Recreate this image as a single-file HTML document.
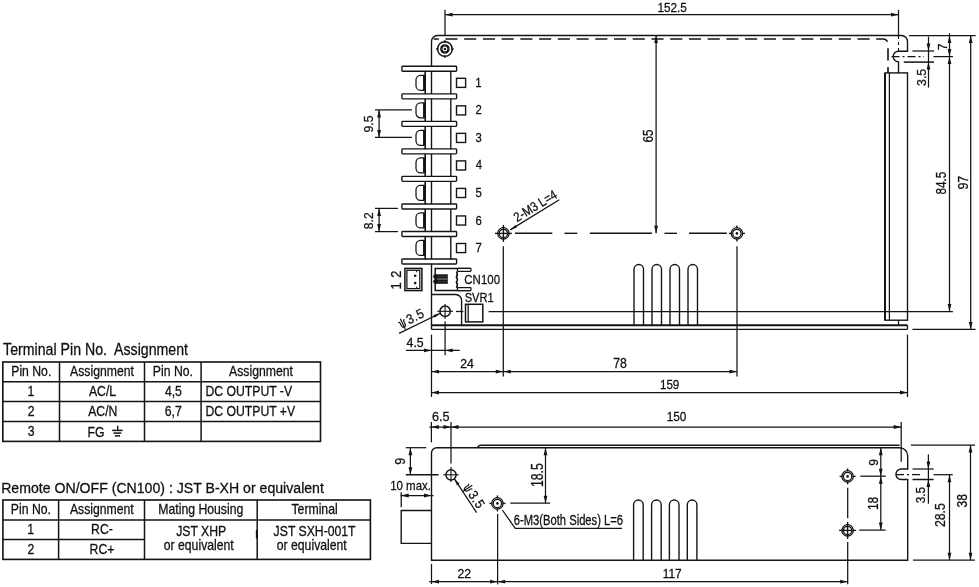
<!DOCTYPE html>
<html><head><meta charset="utf-8"><style>
html,body{margin:0;padding:0;background:#fff;overflow:hidden}
svg{display:block;will-change:transform}
</style></head><body>
<svg width="979" height="587" viewBox="0 0 979 587">
<rect width="979" height="587" fill="#fff"/>
<line x1="445" y1="9.7" x2="445" y2="35.5" stroke="#141414" stroke-width="1.25"/>
<line x1="898.5" y1="9.8" x2="898.5" y2="35.5" stroke="#141414" stroke-width="1.25"/>
<line x1="445" y1="14.7" x2="898.5" y2="14.7" stroke="#141414" stroke-width="1.25"/>
<polygon points="445,14.7 452.5,12.8 452.5,16.6" fill="#141414"/>
<polygon points="898.5,14.7 891,12.8 891,16.6" fill="#141414"/>
<text font-family="Liberation Sans, sans-serif" stroke="#111" stroke-width="0.28" font-size="12.86" fill="#111" style="white-space:pre" transform="translate(657.52,12.3) scale(0.913,1)">152.5</text>
<path d="M431.5,329.4 L431.5,41.5 A6,6 0 0 1 437.5,35.5 L901.5,35.5 A6,6 0 0 1 907.5,41.5 L907.5,51.3 L898.5,51.3 A5.3,5.3 0 0 0 898.5,61.9 L898.5,72.9" stroke="#141414" stroke-width="1.38" fill="none" />
<rect x="885" y="72.9" width="22.5" height="247.3" stroke="#141414" stroke-width="1.38" fill="none"/>
<line x1="889.4" y1="72.9" x2="889.4" y2="320.2" stroke="#141414" stroke-width="1.25"/>
<line x1="885" y1="72.9" x2="885" y2="320.2" stroke="#141414" stroke-width="1.88"/>
<line x1="898.5" y1="320.2" x2="898.5" y2="325.2" stroke="#141414" stroke-width="1.25"/>
<line x1="431.5" y1="325.2" x2="907.5" y2="325.2" stroke="#141414" stroke-width="2"/>
<line x1="907.5" y1="325.2" x2="907.5" y2="329.4" stroke="#141414" stroke-width="1.25"/>
<line x1="431.5" y1="329.4" x2="907.5" y2="329.4" stroke="#141414" stroke-width="1.38"/>
<path d="M433.7,39 L883,39 A5,5 0 0 1 888,44 L888,72.9" stroke="#141414" stroke-width="1.62" fill="none" stroke-dasharray="12.1 6.63" stroke-dashoffset="7"/>
<path d="M898.5,36 L898.5,51" stroke="#141414" stroke-width="1.12" fill="none" stroke-dasharray="3 3"/>
<path d="M891.5,56.6 L924,56.6" stroke="#141414" stroke-width="1.25" fill="none" stroke-dasharray="8 3 2 3"/>
<circle cx="444.9" cy="49" r="7.3" stroke="#141414" stroke-width="1.5" fill="none"/>
<circle cx="444.9" cy="49" r="3.6" stroke="#141414" stroke-width="2.38" fill="none"/>
<circle cx="444.9" cy="49" r="1.2" stroke="#141414" stroke-width="0" fill="#141414"/>
<line x1="435.9" y1="49" x2="438.6" y2="49" stroke="#141414" stroke-width="1.25"/>
<line x1="444.9" y1="40" x2="444.9" y2="42.7" stroke="#141414" stroke-width="1.25"/>
<line x1="451.2" y1="49" x2="453.9" y2="49" stroke="#141414" stroke-width="1.25"/>
<line x1="444.9" y1="55.3" x2="444.9" y2="58" stroke="#141414" stroke-width="1.25"/>
<line x1="440.9" y1="49" x2="442.7" y2="49" stroke="#777" stroke-width="0.75"/>
<line x1="447.1" y1="49" x2="448.9" y2="49" stroke="#777" stroke-width="0.75"/>
<line x1="444.9" y1="45" x2="444.9" y2="46.8" stroke="#777" stroke-width="0.75"/>
<line x1="444.9" y1="51.2" x2="444.9" y2="53" stroke="#777" stroke-width="0.75"/>
<rect x="401.9" y="66.3" width="54.7" height="5" stroke="#141414" stroke-width="1.38" fill="#fff" rx="0.8"/>
<rect x="401.9" y="93.83" width="54.7" height="5" stroke="#141414" stroke-width="1.38" fill="#fff" rx="0.8"/>
<rect x="401.9" y="121.36" width="54.7" height="5" stroke="#141414" stroke-width="1.38" fill="#fff" rx="0.8"/>
<rect x="401.9" y="148.89" width="54.7" height="5" stroke="#141414" stroke-width="1.38" fill="#fff" rx="0.8"/>
<rect x="401.9" y="176.42" width="54.7" height="5" stroke="#141414" stroke-width="1.38" fill="#fff" rx="0.8"/>
<rect x="401.9" y="203.95" width="54.7" height="5" stroke="#141414" stroke-width="1.38" fill="#fff" rx="0.8"/>
<rect x="401.9" y="231.48" width="54.7" height="5" stroke="#141414" stroke-width="1.38" fill="#fff" rx="0.8"/>
<rect x="401.9" y="259.01" width="54.7" height="5" stroke="#141414" stroke-width="1.38" fill="#fff" rx="0.8"/>
<line x1="425.2" y1="71.3" x2="425.2" y2="94.2" stroke="#141414" stroke-width="1.62"/>
<line x1="450.8" y1="71.3" x2="450.8" y2="94.2" stroke="#141414" stroke-width="1.38"/>
<path d="M424.5,75.25 L420.5,75.25 A4.5,4.5 0 0 0 416,79.75 L416,85.75 A4.5,4.5 0 0 0 420.5,90.25 L424.5,90.25" stroke="#141414" stroke-width="1.25" fill="none" />
<line x1="424.3" y1="75.25" x2="424.3" y2="90.25" stroke="#141414" stroke-width="2.5"/>
<rect x="456.5" y="78.3" width="9.1" height="9.1" stroke="#141414" stroke-width="1.38" fill="none"/>
<text font-family="Liberation Sans, sans-serif" stroke="#111" stroke-width="0.28" font-size="12.6" fill="#111" style="white-space:pre" transform="translate(475.15,86.9) scale(0.900,1)">1</text>
<line x1="425.2" y1="98.83" x2="425.2" y2="121.73" stroke="#141414" stroke-width="1.62"/>
<line x1="450.8" y1="98.83" x2="450.8" y2="121.73" stroke="#141414" stroke-width="1.38"/>
<path d="M424.5,102.78 L420.5,102.78 A4.5,4.5 0 0 0 416,107.28 L416,113.28 A4.5,4.5 0 0 0 420.5,117.78 L424.5,117.78" stroke="#141414" stroke-width="1.25" fill="none" />
<line x1="424.3" y1="102.78" x2="424.3" y2="117.78" stroke="#141414" stroke-width="2.5"/>
<rect x="456.5" y="105.83" width="9.1" height="9.1" stroke="#141414" stroke-width="1.38" fill="none"/>
<text font-family="Liberation Sans, sans-serif" stroke="#111" stroke-width="0.28" font-size="12.6" fill="#111" style="white-space:pre" transform="translate(475.43,114.43) scale(0.900,1)">2</text>
<line x1="425.2" y1="126.36" x2="425.2" y2="149.26" stroke="#141414" stroke-width="1.62"/>
<line x1="450.8" y1="126.36" x2="450.8" y2="149.26" stroke="#141414" stroke-width="1.38"/>
<path d="M424.5,130.31 L420.5,130.31 A4.5,4.5 0 0 0 416,134.81 L416,140.81 A4.5,4.5 0 0 0 420.5,145.31 L424.5,145.31" stroke="#141414" stroke-width="1.25" fill="none" />
<line x1="424.3" y1="130.31" x2="424.3" y2="145.31" stroke="#141414" stroke-width="2.5"/>
<rect x="456.5" y="133.36" width="9.1" height="9.1" stroke="#141414" stroke-width="1.38" fill="none"/>
<text font-family="Liberation Sans, sans-serif" stroke="#111" stroke-width="0.28" font-size="12.6" fill="#111" style="white-space:pre" transform="translate(475.55,141.96) scale(0.900,1)">3</text>
<line x1="425.2" y1="153.89" x2="425.2" y2="176.79" stroke="#141414" stroke-width="1.62"/>
<line x1="450.8" y1="153.89" x2="450.8" y2="176.79" stroke="#141414" stroke-width="1.38"/>
<path d="M424.5,157.84 L420.5,157.84 A4.5,4.5 0 0 0 416,162.34 L416,168.34 A4.5,4.5 0 0 0 420.5,172.84 L424.5,172.84" stroke="#141414" stroke-width="1.25" fill="none" />
<line x1="424.3" y1="157.84" x2="424.3" y2="172.84" stroke="#141414" stroke-width="2.5"/>
<rect x="456.5" y="160.89" width="9.1" height="9.1" stroke="#141414" stroke-width="1.38" fill="none"/>
<text font-family="Liberation Sans, sans-serif" stroke="#111" stroke-width="0.28" font-size="12.6" fill="#111" style="white-space:pre" transform="translate(475.77,169.49) scale(0.900,1)">4</text>
<line x1="425.2" y1="181.42" x2="425.2" y2="204.32" stroke="#141414" stroke-width="1.62"/>
<line x1="450.8" y1="181.42" x2="450.8" y2="204.32" stroke="#141414" stroke-width="1.38"/>
<path d="M424.5,185.37 L420.5,185.37 A4.5,4.5 0 0 0 416,189.87 L416,195.87 A4.5,4.5 0 0 0 420.5,200.37 L424.5,200.37" stroke="#141414" stroke-width="1.25" fill="none" />
<line x1="424.3" y1="185.37" x2="424.3" y2="200.37" stroke="#141414" stroke-width="2.5"/>
<rect x="456.5" y="188.42" width="9.1" height="9.1" stroke="#141414" stroke-width="1.38" fill="none"/>
<text font-family="Liberation Sans, sans-serif" stroke="#111" stroke-width="0.28" font-size="12.6" fill="#111" style="white-space:pre" transform="translate(475.55,197.02) scale(0.900,1)">5</text>
<line x1="425.2" y1="208.95" x2="425.2" y2="231.85" stroke="#141414" stroke-width="1.62"/>
<line x1="450.8" y1="208.95" x2="450.8" y2="231.85" stroke="#141414" stroke-width="1.38"/>
<path d="M424.5,212.9 L420.5,212.9 A4.5,4.5 0 0 0 416,217.4 L416,223.4 A4.5,4.5 0 0 0 420.5,227.9 L424.5,227.9" stroke="#141414" stroke-width="1.25" fill="none" />
<line x1="424.3" y1="212.9" x2="424.3" y2="227.9" stroke="#141414" stroke-width="2.5"/>
<rect x="456.5" y="215.95" width="9.1" height="9.1" stroke="#141414" stroke-width="1.38" fill="none"/>
<text font-family="Liberation Sans, sans-serif" stroke="#111" stroke-width="0.28" font-size="12.6" fill="#111" style="white-space:pre" transform="translate(475.43,224.55) scale(0.900,1)">6</text>
<line x1="425.2" y1="236.48" x2="425.2" y2="259.38" stroke="#141414" stroke-width="1.62"/>
<line x1="450.8" y1="236.48" x2="450.8" y2="259.38" stroke="#141414" stroke-width="1.38"/>
<path d="M424.5,240.43 L420.5,240.43 A4.5,4.5 0 0 0 416,244.93 L416,250.93 A4.5,4.5 0 0 0 420.5,255.43 L424.5,255.43" stroke="#141414" stroke-width="1.25" fill="none" />
<line x1="424.3" y1="240.43" x2="424.3" y2="255.43" stroke="#141414" stroke-width="2.5"/>
<rect x="456.5" y="243.48" width="9.1" height="9.1" stroke="#141414" stroke-width="1.38" fill="none"/>
<text font-family="Liberation Sans, sans-serif" stroke="#111" stroke-width="0.28" font-size="12.6" fill="#111" style="white-space:pre" transform="translate(475.43,252.08) scale(0.900,1)">7</text>
<line x1="375" y1="109.9" x2="411.9" y2="109.9" stroke="#141414" stroke-width="1.25"/>
<line x1="375" y1="137.4" x2="411.9" y2="137.4" stroke="#141414" stroke-width="1.25"/>
<line x1="379.1" y1="109.9" x2="379.1" y2="137.4" stroke="#141414" stroke-width="1.25"/>
<polygon points="379.1,109.9 377.2,117.4 381,117.4" fill="#141414"/>
<polygon points="379.1,137.4 377.2,129.9 381,129.9" fill="#141414"/>
<text font-family="Liberation Sans, sans-serif" stroke="#111" stroke-width="0.28" font-size="13.29" fill="#111" transform="translate(373.3,132.45) rotate(-90) scale(0.923,1)">9.5</text>
<line x1="375" y1="208.4" x2="398" y2="208.4" stroke="#141414" stroke-width="1.25"/>
<line x1="375" y1="231.6" x2="398" y2="231.6" stroke="#141414" stroke-width="1.25"/>
<line x1="379.1" y1="208.4" x2="379.1" y2="231.6" stroke="#141414" stroke-width="1.25"/>
<polygon points="379.1,208.4 377.2,215.9 381,215.9" fill="#141414"/>
<polygon points="379.1,231.6 377.2,224.1 381,224.1" fill="#141414"/>
<text font-family="Liberation Sans, sans-serif" stroke="#111" stroke-width="0.28" font-size="13.29" fill="#111" transform="translate(373.3,229.14) rotate(-90) scale(0.907,1)">8.2</text>
<rect x="404.9" y="268.4" width="17" height="22.2" stroke="#141414" stroke-width="1.5" fill="none"/>
<rect x="406.9" y="270.3" width="12.9" height="18.3" stroke="#141414" stroke-width="1.25" fill="none"/>
<line x1="416.7" y1="270.3" x2="416.7" y2="272.3" stroke="#141414" stroke-width="1"/>
<line x1="416.7" y1="286.6" x2="416.7" y2="288.6" stroke="#141414" stroke-width="1"/>
<circle cx="415.2" cy="275.7" r="1.3" stroke="#141414" stroke-width="0" fill="#141414"/>
<circle cx="415.2" cy="283.1" r="1.3" stroke="#141414" stroke-width="0" fill="#141414"/>
<text font-family="Liberation Sans, sans-serif" stroke="#111" stroke-width="0.28" font-size="14.29" fill="#111" transform="translate(401.1,277.74) rotate(-90) scale(0.892,1)">2</text>
<text font-family="Liberation Sans, sans-serif" stroke="#111" stroke-width="0.28" font-size="14.3" fill="#111" transform="translate(401.1,289.57) rotate(-90) scale(0.900,1)">1</text>
<path d="M470.7,268.4 L435.2,268.4 L435.2,290.6 L470.7,290.6" stroke="#141414" stroke-width="1.5" fill="none" />
<rect x="457.5" y="268.4" width="13.5" height="3" stroke="#141414" stroke-width="1.25" fill="#fff" rx="0.8"/>
<rect x="457.5" y="287.6" width="13.5" height="3" stroke="#141414" stroke-width="1.25" fill="#fff" rx="0.8"/>
<path d="M456.4,271.4 Q458.3,274.5 456.4,277 Q458.3,279.5 456.4,282 Q458.3,284.5 456.4,288" stroke="#141414" stroke-width="1.62" fill="none" />
<rect x="436" y="274.3" width="11.8" height="9.5" stroke="#141414" stroke-width="0" fill="#141414"/>
<circle cx="435.4" cy="276.5" r="2.2" stroke="#141414" stroke-width="0" fill="#141414"/>
<circle cx="435.4" cy="281.6" r="2.2" stroke="#141414" stroke-width="0" fill="#141414"/>
<line x1="437" y1="279" x2="447.5" y2="279" stroke="#888" stroke-width="1.12"/>
<line x1="437.5" y1="276.4" x2="447.5" y2="276.4" stroke="#555" stroke-width="0.62"/>
<line x1="437.5" y1="281.6" x2="447.5" y2="281.6" stroke="#555" stroke-width="0.62"/>
<text font-family="Liberation Sans, sans-serif" stroke="#111" stroke-width="0.28" font-size="13.14" fill="#111" style="white-space:pre" transform="translate(464.33,283.7) scale(0.873,1)">CN100</text>
<path d="M431.5,294.5 L455.6,294.5 A6,6 0 0 1 461.6,300.5 L461.6,325.2" stroke="#141414" stroke-width="1.38" fill="none" />
<text font-family="Liberation Sans, sans-serif" stroke="#111" stroke-width="0.28" font-size="13.14" fill="#111" style="white-space:pre" transform="translate(464.7,301.8) scale(0.845,1)">SVR1</text>
<rect x="465.5" y="304.3" width="17.3" height="17.6" stroke="#141414" stroke-width="1.5" fill="none"/>
<line x1="468.2" y1="304.3" x2="468.2" y2="321.9" stroke="#141414" stroke-width="1.25"/>
<circle cx="445.1" cy="311.3" r="5.2" stroke="#141414" stroke-width="1.5" fill="none"/>
<line x1="437.3" y1="311.3" x2="453" y2="311.3" stroke="#141414" stroke-width="1.12"/>
<line x1="445.1" y1="304.1" x2="445.1" y2="318.7" stroke="#141414" stroke-width="1.12"/>
<line x1="456" y1="311.5" x2="463.4" y2="311.5" stroke="#141414" stroke-width="1.25"/>
<line x1="488.6" y1="311.5" x2="952.9" y2="311.5" stroke="#141414" stroke-width="1.25"/>
<line x1="445.1" y1="321.5" x2="445.1" y2="355.3" stroke="#141414" stroke-width="1.25"/>
<line x1="440.3" y1="313.3" x2="399.1" y2="333.4" stroke="#141414" stroke-width="1.25"/>
<polygon points="440.3,313.3 433.35,315.02 434.67,317.72" fill="#141414"/>
<g transform="translate(401,328.3) rotate(-26)">
<path d="M0,-6.3 C0.9,-6.7 1.4,-6 1.4,-4.8 L1.4,-3 C1.4,-0.8 2.3,0.4 3.5,0.4 C4.7,0.4 5.6,-0.8 5.6,-3 L5.6,-4.8 C5.6,-6 6.1,-6.7 7,-6.3 M3.5,-8.8 L3.5,3" stroke="#111" stroke-width="1.15" fill="none"/>
<text font-family="Liberation Sans, sans-serif" stroke="#111" stroke-width="0.28" font-size="13.5" fill="#111" transform="translate(8.8,0) scale(0.900,1)" letter-spacing="0.6">3.5</text>
</g>
<line x1="431.5" y1="334.6" x2="431.5" y2="397" stroke="#141414" stroke-width="1.25"/>
<line x1="406" y1="350.4" x2="459.7" y2="350.4" stroke="#141414" stroke-width="1.25"/>
<polygon points="431.5,350.4 424,348.5 424,352.3" fill="#141414"/>
<polygon points="445.1,350.4 452.6,348.5 452.6,352.3" fill="#141414"/>
<text font-family="Liberation Sans, sans-serif" stroke="#111" stroke-width="0.28" font-size="12.29" fill="#111" style="white-space:pre" transform="translate(406.55,346.6) scale(1.004,1)">4.5</text>
<line x1="503.3" y1="246.2" x2="503.3" y2="376.6" stroke="#141414" stroke-width="1.25"/>
<line x1="737" y1="246.3" x2="737" y2="376.6" stroke="#141414" stroke-width="1.25"/>
<line x1="431.5" y1="371.6" x2="737" y2="371.6" stroke="#141414" stroke-width="1.25"/>
<polygon points="431.5,371.6 439,369.7 439,373.5" fill="#141414"/>
<polygon points="503.3,371.6 495.8,369.7 495.8,373.5" fill="#141414"/>
<polygon points="503.3,371.6 510.8,369.7 510.8,373.5" fill="#141414"/>
<polygon points="737,371.6 729.5,369.7 729.5,373.5" fill="#141414"/>
<text font-family="Liberation Sans, sans-serif" stroke="#111" stroke-width="0.28" font-size="12.14" fill="#111" style="white-space:pre" transform="translate(460.19,368.2) scale(1.007,1)">24</text>
<text font-family="Liberation Sans, sans-serif" stroke="#111" stroke-width="0.28" font-size="13.71" fill="#111" style="white-space:pre" transform="translate(613.29,368.2) scale(0.894,1)">78</text>
<line x1="907.5" y1="334.6" x2="907.5" y2="397" stroke="#141414" stroke-width="1.25"/>
<line x1="431.5" y1="392.5" x2="907.5" y2="392.5" stroke="#141414" stroke-width="1.25"/>
<polygon points="431.5,392.5 439,390.6 439,394.4" fill="#141414"/>
<polygon points="907.5,392.5 900,390.6 900,394.4" fill="#141414"/>
<text font-family="Liberation Sans, sans-serif" stroke="#111" stroke-width="0.28" font-size="13.57" fill="#111" style="white-space:pre" transform="translate(659.93,389) scale(0.858,1)">159</text>
<line x1="656.1" y1="35.5" x2="656.1" y2="233.3" stroke="#141414" stroke-width="1.25"/>
<polygon points="656.1,35.5 654.2,43 658,43" fill="#141414"/>
<polygon points="656.1,233.3 654.2,225.8 658,225.8" fill="#141414"/>
<text font-family="Liberation Sans, sans-serif" stroke="#111" stroke-width="0.28" font-size="14" fill="#111" transform="translate(652.8,142.48) rotate(-90) scale(0.833,1)">65</text>
<circle cx="503.4" cy="233.4" r="5.7" stroke="#141414" stroke-width="1.25" fill="none"/>
<circle cx="503.4" cy="233.4" r="4.15" stroke="#141414" stroke-width="1.25" fill="none"/>
<line x1="494.9" y1="233.4" x2="511.9" y2="233.4" stroke="#141414" stroke-width="1.38"/>
<line x1="503.4" y1="224.9" x2="503.4" y2="241.9" stroke="#141414" stroke-width="1.38"/>
<circle cx="736.9" cy="233.4" r="5.7" stroke="#141414" stroke-width="1.25" fill="none"/>
<circle cx="736.9" cy="233.4" r="4.15" stroke="#141414" stroke-width="1.25" fill="none"/>
<circle cx="736.9" cy="233.4" r="1.3" stroke="#141414" stroke-width="0" fill="#141414"/>
<line x1="728.9" y1="233.4" x2="731.9" y2="233.4" stroke="#141414" stroke-width="1.38"/>
<line x1="736.9" y1="225.4" x2="736.9" y2="228.4" stroke="#141414" stroke-width="1.38"/>
<line x1="741.9" y1="233.4" x2="744.9" y2="233.4" stroke="#141414" stroke-width="1.38"/>
<line x1="736.9" y1="238.4" x2="736.9" y2="241.4" stroke="#141414" stroke-width="1.38"/>
<line x1="515" y1="233.3" x2="552.3" y2="233.3" stroke="#141414" stroke-width="1.38"/>
<line x1="564.5" y1="233.3" x2="577.3" y2="233.3" stroke="#141414" stroke-width="1.38"/>
<line x1="589.8" y1="233.3" x2="651.9" y2="233.3" stroke="#141414" stroke-width="1.38"/>
<line x1="664.5" y1="233.3" x2="677" y2="233.3" stroke="#141414" stroke-width="1.38"/>
<line x1="689" y1="233.3" x2="726.8" y2="233.3" stroke="#141414" stroke-width="1.38"/>
<line x1="510.2" y1="229.9" x2="559.3" y2="199.8" stroke="#141414" stroke-width="1.25"/>
<polygon points="510.2,229.9 516.95,227.52 515.38,224.96" fill="#141414"/>
<text font-family="Liberation Sans, sans-serif" stroke="#111" stroke-width="0.28" font-size="13.2" fill="#111" transform="translate(517.1,222.3) rotate(-31.5) scale(0.860,1)">2-M3 L=4</text>
<path d="M634,325 L634,269.3 A4.75,4.75 0 0 1 643.5,269.3 L643.5,325" stroke="#141414" stroke-width="1.38" fill="none" />
<path d="M652,325 L652,269.3 A4.75,4.75 0 0 1 661.5,269.3 L661.5,325" stroke="#141414" stroke-width="1.38" fill="none" />
<path d="M670,325 L670,269.3 A4.75,4.75 0 0 1 679.5,269.3 L679.5,325" stroke="#141414" stroke-width="1.38" fill="none" />
<path d="M688,325 L688,269.3 A4.75,4.75 0 0 1 697.5,269.3 L697.5,325" stroke="#141414" stroke-width="1.38" fill="none" />
<line x1="909.1" y1="35.5" x2="975.6" y2="35.5" stroke="#141414" stroke-width="1.25"/>
<line x1="933.5" y1="56.6" x2="952.9" y2="56.6" stroke="#141414" stroke-width="1.25"/>
<line x1="912.4" y1="51" x2="934" y2="51" stroke="#141414" stroke-width="1.25"/>
<line x1="903.8" y1="62.1" x2="934" y2="62.1" stroke="#141414" stroke-width="1.5"/>
<line x1="928.5" y1="36.6" x2="928.5" y2="87.6" stroke="#141414" stroke-width="1.25"/>
<polygon points="928.5,51 926.6,43.5 930.4,43.5" fill="#141414"/>
<polygon points="928.5,62.1 926.6,69.6 930.4,69.6" fill="#141414"/>
<text font-family="Liberation Sans, sans-serif" stroke="#111" stroke-width="0.28" font-size="13.14" fill="#111" transform="translate(925.5,85.89) rotate(-90) scale(0.935,1)">3.5</text>
<line x1="949.5" y1="33.3" x2="949.5" y2="311.5" stroke="#141414" stroke-width="1.25"/>
<polygon points="949.5,35.5 947.6,43 951.4,43" fill="#141414"/>
<polygon points="949.5,56.6 947.6,49.1 951.4,49.1" fill="#141414"/>
<polygon points="949.5,56.6 947.6,64.1 951.4,64.1" fill="#141414"/>
<polygon points="949.5,311.5 947.6,304 951.4,304" fill="#141414"/>
<text font-family="Liberation Sans, sans-serif" stroke="#111" stroke-width="0.28" font-size="13.5" fill="#111" transform="translate(946.8,50.21) rotate(-90) scale(0.900,1)">7</text>
<text font-family="Liberation Sans, sans-serif" stroke="#111" stroke-width="0.28" font-size="14.86" fill="#111" transform="translate(946.4,194.43) rotate(-90) scale(0.789,1)">84.5</text>
<line x1="912.4" y1="329.4" x2="975.6" y2="329.4" stroke="#141414" stroke-width="1.25"/>
<line x1="970.7" y1="35.5" x2="970.7" y2="329.4" stroke="#141414" stroke-width="1.25"/>
<polygon points="970.7,35.5 968.8,43 972.6,43" fill="#141414"/>
<polygon points="970.7,329.4 968.8,321.9 972.6,321.9" fill="#141414"/>
<text font-family="Liberation Sans, sans-serif" stroke="#111" stroke-width="0.28" font-size="14" fill="#111" transform="translate(967.6,189.56) rotate(-90) scale(0.887,1)">97</text>
<line x1="431.4" y1="422" x2="431.4" y2="442.4" stroke="#141414" stroke-width="1.25"/>
<line x1="451" y1="422" x2="451" y2="463.5" stroke="#141414" stroke-width="1.25"/>
<line x1="901.2" y1="421.9" x2="901.2" y2="461.7" stroke="#141414" stroke-width="1.25"/>
<line x1="429.4" y1="427" x2="901.2" y2="427" stroke="#141414" stroke-width="1.25"/>
<polygon points="431.4,427 438.9,425.1 438.9,428.9" fill="#141414"/>
<polygon points="451,427 443.5,425.1 443.5,428.9" fill="#141414"/>
<polygon points="451,427 458.5,425.1 458.5,428.9" fill="#141414"/>
<polygon points="901.2,427 893.7,425.1 893.7,428.9" fill="#141414"/>
<text font-family="Liberation Sans, sans-serif" stroke="#111" stroke-width="0.28" font-size="12.86" fill="#111" style="white-space:pre" transform="translate(432.07,421) scale(0.981,1)">6.5</text>
<text font-family="Liberation Sans, sans-serif" stroke="#111" stroke-width="0.28" font-size="13.57" fill="#111" style="white-space:pre" transform="translate(666.71,421.1) scale(0.872,1)">150</text>
<path d="M431.5,560.3 L431.5,453 A5.3,5.3 0 0 1 436.8,447.7 L899.5,447.7 A8.2,8.2 0 0 1 907.7,455.9 L907.7,469 L901.2,469 A5.25,5.25 0 0 0 901.2,479.5 L907.7,479.5 L907.7,560.3 Z" stroke="#141414" stroke-width="1.38" fill="none" />
<path d="M477.5,447.7 Q478.5,445.2 481,445.2 L899.5,445.2" stroke="#141414" stroke-width="1.38" fill="none" />
<path d="M896,474.7 L923,474.7" stroke="#141414" stroke-width="1.25" fill="none" stroke-dasharray="8 3 2 3"/>
<path d="M431.5,510.5 L401.2,510.5 L401.2,543.4 L431.5,543.4" stroke="#141414" stroke-width="1.38" fill="none" />
<line x1="405.8" y1="447.7" x2="426.3" y2="447.7" stroke="#141414" stroke-width="1.25"/>
<line x1="405.8" y1="474.8" x2="438.6" y2="474.8" stroke="#141414" stroke-width="1.38"/>
<line x1="410.4" y1="447.7" x2="410.4" y2="474.8" stroke="#141414" stroke-width="1.25"/>
<polygon points="410.4,447.7 408.5,455.2 412.3,455.2" fill="#141414"/>
<polygon points="410.4,474.8 408.5,467.3 412.3,467.3" fill="#141414"/>
<text font-family="Liberation Sans, sans-serif" stroke="#111" stroke-width="0.28" font-size="13.86" fill="#111" transform="translate(404.8,464.76) rotate(-90) scale(0.900,1)">9</text>
<circle cx="451" cy="474.8" r="5.1" stroke="#141414" stroke-width="1.5" fill="none"/>
<line x1="443.2" y1="474.8" x2="458.7" y2="474.8" stroke="#141414" stroke-width="1.12"/>
<line x1="451" y1="467.1" x2="451" y2="481.9" stroke="#141414" stroke-width="1.12"/>
<line x1="454.4" y1="478.8" x2="476.6" y2="512.6" stroke="#141414" stroke-width="1.25"/>
<polygon points="454.4,478.8 456.99,485.47 459.5,483.83" fill="#141414"/>
<g transform="translate(463,487.1) rotate(57)">
<path d="M0,-6.3 C0.9,-6.7 1.4,-6 1.4,-4.8 L1.4,-3 C1.4,-0.8 2.3,0.4 3.5,0.4 C4.7,0.4 5.6,-0.8 5.6,-3 L5.6,-4.8 C5.6,-6 6.1,-6.7 7,-6.3 M3.5,-8.8 L3.5,3" stroke="#111" stroke-width="1.15" fill="none"/>
<text font-family="Liberation Sans, sans-serif" stroke="#111" stroke-width="0.28" font-size="13.5" fill="#111" transform="translate(8.8,0) scale(0.900,1)" letter-spacing="0.6">3.5</text>
</g>
<text font-family="Liberation Sans, sans-serif" stroke="#111" stroke-width="0.28" font-size="13.14" fill="#111" style="white-space:pre" transform="translate(390.14,490.1) scale(0.873,1)">10 max.</text>
<line x1="401.2" y1="492.2" x2="401.2" y2="507.2" stroke="#141414" stroke-width="1.25"/>
<line x1="400.7" y1="495.5" x2="433.5" y2="495.5" stroke="#141414" stroke-width="1.25"/>
<polygon points="401.2,495.5 408.7,493.6 408.7,497.4" fill="#141414"/>
<polygon points="431.5,495.5 424,493.6 424,497.4" fill="#141414"/>
<circle cx="497.4" cy="503.4" r="5.7" stroke="#141414" stroke-width="1.25" fill="none"/>
<circle cx="497.4" cy="503.4" r="4.15" stroke="#141414" stroke-width="1.25" fill="none"/>
<circle cx="497.4" cy="503.4" r="1.3" stroke="#141414" stroke-width="0" fill="#141414"/>
<line x1="489.4" y1="503.4" x2="492.4" y2="503.4" stroke="#141414" stroke-width="1.38"/>
<line x1="497.4" y1="495.4" x2="497.4" y2="498.4" stroke="#141414" stroke-width="1.38"/>
<line x1="502.4" y1="503.4" x2="505.4" y2="503.4" stroke="#141414" stroke-width="1.38"/>
<line x1="497.4" y1="508.4" x2="497.4" y2="511.4" stroke="#141414" stroke-width="1.38"/>
<line x1="497.6" y1="514" x2="497.6" y2="584.4" stroke="#141414" stroke-width="1.25"/>
<line x1="510.2" y1="503.2" x2="550.1" y2="503.2" stroke="#141414" stroke-width="1.25"/>
<line x1="545.5" y1="447.8" x2="545.5" y2="503.2" stroke="#141414" stroke-width="1.25"/>
<polygon points="545.5,447.8 543.6,455.3 547.4,455.3" fill="#141414"/>
<polygon points="545.5,503.2 543.6,495.7 547.4,495.7" fill="#141414"/>
<text font-family="Liberation Sans, sans-serif" stroke="#111" stroke-width="0.28" font-size="16.14" fill="#111" transform="translate(543,487.12) rotate(-90) scale(0.762,1)">18.5</text>
<path d="M502.3,510 L515.2,528.3 L622,528.3" stroke="#141414" stroke-width="1.25" fill="none" />
<text font-family="Liberation Sans, sans-serif" stroke="#111" stroke-width="0.28" font-size="13.71" fill="#111" style="white-space:pre" transform="translate(513.74,524.5) scale(0.818,1)">6-M3(Both Sides) L=6</text>
<path d="M633.6,560.3 L633.6,504.8 A4.8,4.8 0 0 1 643.2,504.8 L643.2,560.3" stroke="#141414" stroke-width="1.38" fill="none" />
<path d="M651.6,560.3 L651.6,504.8 A4.8,4.8 0 0 1 661.2,504.8 L661.2,560.3" stroke="#141414" stroke-width="1.38" fill="none" />
<path d="M669.4,560.3 L669.4,504.8 A4.8,4.8 0 0 1 679,504.8 L679,560.3" stroke="#141414" stroke-width="1.38" fill="none" />
<path d="M687.3,560.3 L687.3,504.8 A4.8,4.8 0 0 1 696.9,504.8 L696.9,560.3" stroke="#141414" stroke-width="1.38" fill="none" />
<line x1="431.5" y1="564" x2="431.5" y2="584" stroke="#141414" stroke-width="1.25"/>
<line x1="429.3" y1="581.7" x2="847.7" y2="581.7" stroke="#141414" stroke-width="1.25"/>
<polygon points="431.5,581.7 439,579.8 439,583.6" fill="#141414"/>
<polygon points="497.6,581.7 490.1,579.8 490.1,583.6" fill="#141414"/>
<polygon points="497.6,581.7 505.1,579.8 505.1,583.6" fill="#141414"/>
<polygon points="847.7,581.7 840.2,579.8 840.2,583.6" fill="#141414"/>
<text font-family="Liberation Sans, sans-serif" stroke="#111" stroke-width="0.28" font-size="12.71" fill="#111" style="white-space:pre" transform="translate(457.39,577.5) scale(0.966,1)">22</text>
<text font-family="Liberation Sans, sans-serif" stroke="#111" stroke-width="0.28" font-size="12.29" fill="#111" style="white-space:pre" transform="translate(662.71,577.6) scale(0.963,1)">117</text>
<circle cx="847.6" cy="476.4" r="5.7" stroke="#141414" stroke-width="1.25" fill="none"/>
<circle cx="847.6" cy="476.4" r="4.15" stroke="#141414" stroke-width="1.25" fill="none"/>
<circle cx="847.6" cy="476.4" r="1.3" stroke="#141414" stroke-width="0" fill="#141414"/>
<line x1="839.6" y1="476.4" x2="842.6" y2="476.4" stroke="#141414" stroke-width="1.38"/>
<line x1="847.6" y1="468.4" x2="847.6" y2="471.4" stroke="#141414" stroke-width="1.38"/>
<line x1="852.6" y1="476.4" x2="855.6" y2="476.4" stroke="#141414" stroke-width="1.38"/>
<line x1="847.6" y1="481.4" x2="847.6" y2="484.4" stroke="#141414" stroke-width="1.38"/>
<circle cx="847.6" cy="530.4" r="5.7" stroke="#141414" stroke-width="1.25" fill="none"/>
<circle cx="847.6" cy="530.4" r="4.15" stroke="#141414" stroke-width="1.25" fill="none"/>
<line x1="839.1" y1="530.4" x2="856.1" y2="530.4" stroke="#141414" stroke-width="1.38"/>
<line x1="847.6" y1="521.9" x2="847.6" y2="538.9" stroke="#141414" stroke-width="1.38"/>
<line x1="847.7" y1="487.7" x2="847.7" y2="518.3" stroke="#141414" stroke-width="1.25"/>
<line x1="847.7" y1="542" x2="847.7" y2="584.2" stroke="#141414" stroke-width="1.25"/>
<line x1="860.3" y1="476.2" x2="885.7" y2="476.2" stroke="#141414" stroke-width="1.25"/>
<line x1="859.2" y1="530.1" x2="885.6" y2="530.1" stroke="#141414" stroke-width="1.25"/>
<line x1="880.8" y1="447.5" x2="880.8" y2="530.1" stroke="#141414" stroke-width="1.25"/>
<polygon points="880.8,447.7 878.9,455.2 882.7,455.2" fill="#141414"/>
<polygon points="880.8,476.2 878.9,468.7 882.7,468.7" fill="#141414"/>
<polygon points="880.8,476.2 878.9,483.7 882.7,483.7" fill="#141414"/>
<polygon points="880.8,530.1 878.9,522.6 882.7,522.6" fill="#141414"/>
<text font-family="Liberation Sans, sans-serif" stroke="#111" stroke-width="0.28" font-size="13" fill="#111" transform="translate(877.8,465.74) rotate(-90) scale(0.926,1)">9</text>
<text font-family="Liberation Sans, sans-serif" stroke="#111" stroke-width="0.28" font-size="13.86" fill="#111" transform="translate(878,510.1) rotate(-90) scale(0.863,1)">18</text>
<line x1="912.5" y1="469" x2="933.6" y2="469" stroke="#141414" stroke-width="1.25"/>
<line x1="912.5" y1="479.5" x2="933.6" y2="479.5" stroke="#141414" stroke-width="1.5"/>
<line x1="928.4" y1="454.4" x2="928.4" y2="503.7" stroke="#141414" stroke-width="1.25"/>
<polygon points="928.4,469 926.5,461.5 930.3,461.5" fill="#141414"/>
<polygon points="928.4,479.5 926.5,487 930.3,487" fill="#141414"/>
<text font-family="Liberation Sans, sans-serif" stroke="#111" stroke-width="0.28" font-size="13.71" fill="#111" transform="translate(925.3,503.27) rotate(-90) scale(0.863,1)">3.5</text>
<line x1="933.6" y1="474.7" x2="952.8" y2="474.7" stroke="#141414" stroke-width="1.25"/>
<line x1="949.5" y1="474.7" x2="949.5" y2="560.2" stroke="#141414" stroke-width="1.25"/>
<polygon points="949.5,474.7 947.6,482.2 951.4,482.2" fill="#141414"/>
<polygon points="949.5,560.2 947.6,552.7 951.4,552.7" fill="#141414"/>
<text font-family="Liberation Sans, sans-serif" stroke="#111" stroke-width="0.28" font-size="14.57" fill="#111" transform="translate(945.4,527.11) rotate(-90) scale(0.844,1)">28.5</text>
<line x1="910.9" y1="445.1" x2="975" y2="445.1" stroke="#141414" stroke-width="1.25"/>
<line x1="913" y1="560.2" x2="974.9" y2="560.2" stroke="#141414" stroke-width="1.25"/>
<line x1="970.5" y1="445.1" x2="970.5" y2="560.2" stroke="#141414" stroke-width="1.25"/>
<polygon points="970.5,445.1 968.6,452.6 972.4,452.6" fill="#141414"/>
<polygon points="970.5,560.2 968.6,552.7 972.4,552.7" fill="#141414"/>
<text font-family="Liberation Sans, sans-serif" stroke="#111" stroke-width="0.28" font-size="13.86" fill="#111" transform="translate(967.3,507.48) rotate(-90) scale(0.869,1)">38</text>
<text font-family="Liberation Sans, sans-serif" stroke="#111" stroke-width="0.28" font-size="16.14" fill="#111" style="white-space:pre" transform="translate(3.12,354.7) scale(0.878,1)">Terminal Pin No.  Assignment</text>
<rect x="2.8" y="362" width="317.7" height="79.4" stroke="#141414" stroke-width="1.62" fill="none"/>
<line x1="2.8" y1="381.7" x2="320.5" y2="381.7" stroke="#141414" stroke-width="1.5"/>
<line x1="2.8" y1="401.6" x2="320.5" y2="401.6" stroke="#141414" stroke-width="1.5"/>
<line x1="2.8" y1="421.5" x2="320.5" y2="421.5" stroke="#141414" stroke-width="1.5"/>
<line x1="59.5" y1="362" x2="59.5" y2="441.4" stroke="#141414" stroke-width="1.5"/>
<line x1="144.5" y1="362" x2="144.5" y2="441.4" stroke="#141414" stroke-width="1.5"/>
<line x1="201.1" y1="362" x2="201.1" y2="441.4" stroke="#141414" stroke-width="1.5"/>
<text font-family="Liberation Sans, sans-serif" stroke="#111" stroke-width="0.28" font-size="13.9" fill="#111" style="white-space:pre" transform="translate(11.23,376.3) scale(0.880,1)">Pin No.</text>
<text font-family="Liberation Sans, sans-serif" stroke="#111" stroke-width="0.28" font-size="13.9" fill="#111" style="white-space:pre" transform="translate(70.11,376.3) scale(0.880,1)">Assignment</text>
<text font-family="Liberation Sans, sans-serif" stroke="#111" stroke-width="0.28" font-size="13.9" fill="#111" style="white-space:pre" transform="translate(152.83,376.3) scale(0.880,1)">Pin No.</text>
<text font-family="Liberation Sans, sans-serif" stroke="#111" stroke-width="0.28" font-size="13.9" fill="#111" style="white-space:pre" transform="translate(229.11,376.3) scale(0.880,1)">Assignment</text>
<text font-family="Liberation Sans, sans-serif" stroke="#111" stroke-width="0.28" font-size="13.9" fill="#111" style="white-space:pre" transform="translate(27.62,395.9) scale(0.880,1)">1</text>
<text font-family="Liberation Sans, sans-serif" stroke="#111" stroke-width="0.28" font-size="13.9" fill="#111" style="white-space:pre" transform="translate(88.91,395.9) scale(0.880,1)">AC/L</text>
<text font-family="Liberation Sans, sans-serif" stroke="#111" stroke-width="0.28" font-size="13.9" fill="#111" style="white-space:pre" transform="translate(164.92,395.9) scale(0.880,1)">4,5</text>
<text font-family="Liberation Sans, sans-serif" stroke="#111" stroke-width="0.28" font-size="13.9" fill="#111" style="white-space:pre" transform="translate(205.42,395.9) scale(0.880,1)">DC OUTPUT -V</text>
<text font-family="Liberation Sans, sans-serif" stroke="#111" stroke-width="0.28" font-size="13.9" fill="#111" style="white-space:pre" transform="translate(27.81,415.9) scale(0.880,1)">2</text>
<text font-family="Liberation Sans, sans-serif" stroke="#111" stroke-width="0.28" font-size="13.9" fill="#111" style="white-space:pre" transform="translate(88.2,415.9) scale(0.880,1)">AC/N</text>
<text font-family="Liberation Sans, sans-serif" stroke="#111" stroke-width="0.28" font-size="13.9" fill="#111" style="white-space:pre" transform="translate(164.8,415.9) scale(0.880,1)">6,7</text>
<text font-family="Liberation Sans, sans-serif" stroke="#111" stroke-width="0.28" font-size="13.9" fill="#111" style="white-space:pre" transform="translate(205.42,415.9) scale(0.880,1)">DC OUTPUT +V</text>
<text font-family="Liberation Sans, sans-serif" stroke="#111" stroke-width="0.28" font-size="13.9" fill="#111" style="white-space:pre" transform="translate(27.81,435.9) scale(0.880,1)">3</text>
<text font-family="Liberation Sans, sans-serif" stroke="#111" stroke-width="0.28" font-size="13.9" fill="#111" style="white-space:pre" transform="translate(87.52,437.1) scale(0.880,1)">FG</text>
<line x1="117.7" y1="425.8" x2="117.7" y2="430.4" stroke="#141414" stroke-width="1.38"/>
<line x1="112.2" y1="430.4" x2="122.7" y2="430.4" stroke="#141414" stroke-width="1.5"/>
<line x1="113.5" y1="433.1" x2="121.3" y2="433.1" stroke="#141414" stroke-width="1.5"/>
<line x1="114.9" y1="435.9" x2="120" y2="435.9" stroke="#141414" stroke-width="1.5"/>
<text font-family="Liberation Sans, sans-serif" stroke="#111" stroke-width="0.28" font-size="14.43" fill="#111" style="white-space:pre" transform="translate(1.17,493.3) scale(0.978,1)">Remote ON/OFF (CN100) : JST B-XH or equivalent</text>
<rect x="2.9" y="500" width="367.5" height="59.4" stroke="#141414" stroke-width="1.62" fill="none"/>
<line x1="2.9" y1="520" x2="370.4" y2="520" stroke="#141414" stroke-width="1.5"/>
<line x1="2.9" y1="539.5" x2="144.5" y2="539.5" stroke="#141414" stroke-width="1.5"/>
<line x1="58.6" y1="500" x2="58.6" y2="559.4" stroke="#141414" stroke-width="1.5"/>
<line x1="144.5" y1="500" x2="144.5" y2="559.4" stroke="#141414" stroke-width="1.5"/>
<line x1="257.2" y1="500" x2="257.2" y2="559.4" stroke="#141414" stroke-width="1.5"/>
<line x1="256.8" y1="529.8" x2="256.8" y2="538.5" stroke="#141414" stroke-width="1.88"/>
<text font-family="Liberation Sans, sans-serif" stroke="#111" stroke-width="0.28" font-size="13.9" fill="#111" style="white-space:pre" transform="translate(10.83,514) scale(0.880,1)">Pin No.</text>
<text font-family="Liberation Sans, sans-serif" stroke="#111" stroke-width="0.28" font-size="13.9" fill="#111" style="white-space:pre" transform="translate(69.91,514) scale(0.880,1)">Assignment</text>
<text font-family="Liberation Sans, sans-serif" stroke="#111" stroke-width="0.28" font-size="13.9" fill="#111" style="white-space:pre" transform="translate(158.33,514) scale(0.880,1)">Mating Housing</text>
<text font-family="Liberation Sans, sans-serif" stroke="#111" stroke-width="0.28" font-size="13.9" fill="#111" style="white-space:pre" transform="translate(291.49,514) scale(0.880,1)">Terminal</text>
<text font-family="Liberation Sans, sans-serif" stroke="#111" stroke-width="0.28" font-size="13.9" fill="#111" style="white-space:pre" transform="translate(27.22,534) scale(0.880,1)">1</text>
<text font-family="Liberation Sans, sans-serif" stroke="#111" stroke-width="0.28" font-size="13.9" fill="#111" style="white-space:pre" transform="translate(91.1,534) scale(0.880,1)">RC-</text>
<text font-family="Liberation Sans, sans-serif" stroke="#111" stroke-width="0.28" font-size="13.9" fill="#111" style="white-space:pre" transform="translate(27.41,553.6) scale(0.880,1)">2</text>
<text font-family="Liberation Sans, sans-serif" stroke="#111" stroke-width="0.28" font-size="13.9" fill="#111" style="white-space:pre" transform="translate(89.6,553.6) scale(0.880,1)">RC+</text>
<text font-family="Liberation Sans, sans-serif" stroke="#111" stroke-width="0.28" font-size="13.9" fill="#111" style="white-space:pre" transform="translate(176.2,536.2) scale(0.880,1)">JST XHP</text>
<text font-family="Liberation Sans, sans-serif" stroke="#111" stroke-width="0.28" font-size="13.9" fill="#111" style="white-space:pre" transform="translate(163.77,549.7) scale(0.880,1)">or equivalent</text>
<text font-family="Liberation Sans, sans-serif" stroke="#111" stroke-width="0.28" font-size="13.9" fill="#111" style="white-space:pre" transform="translate(273.62,536.2) scale(0.880,1)">JST SXH-001T</text>
<text font-family="Liberation Sans, sans-serif" stroke="#111" stroke-width="0.28" font-size="13.9" fill="#111" style="white-space:pre" transform="translate(276.77,549.7) scale(0.880,1)">or equivalent</text>
</svg>
</body></html>
